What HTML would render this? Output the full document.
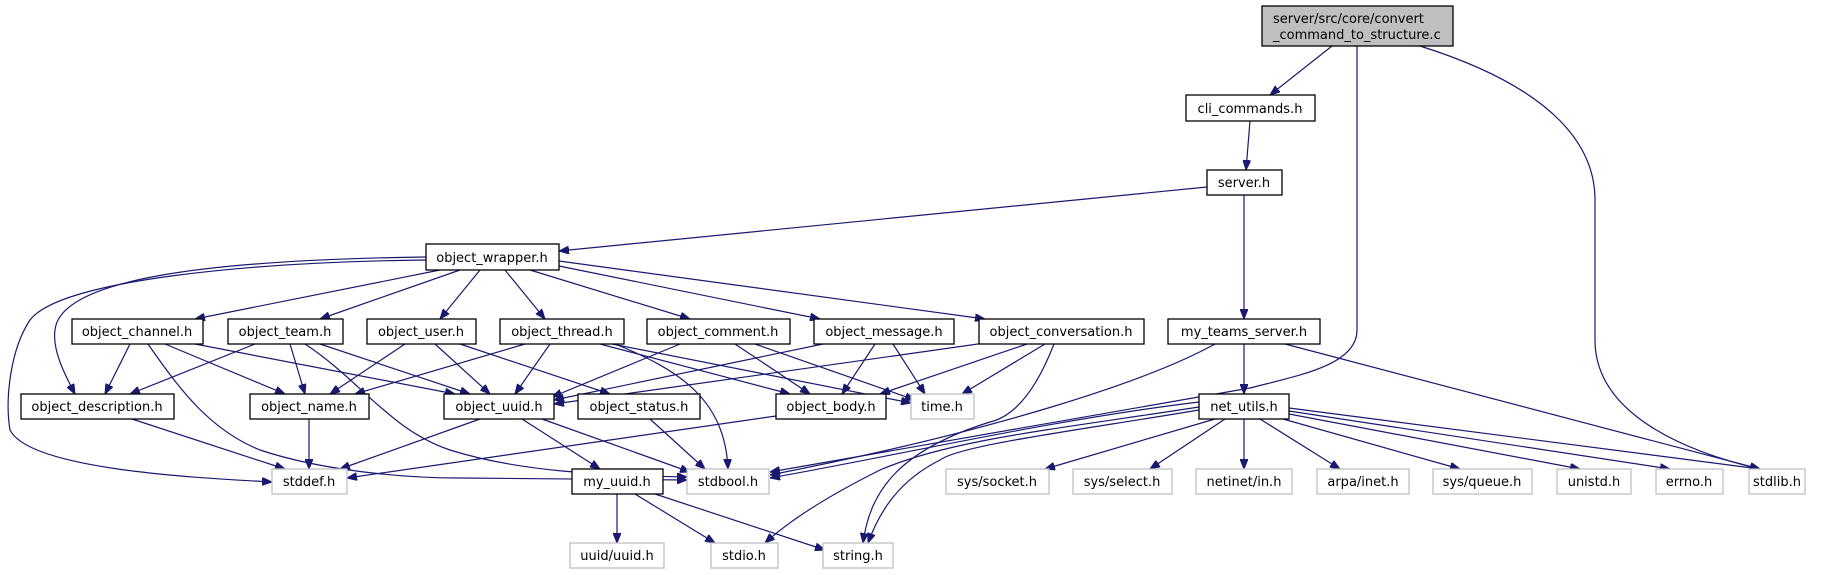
<!DOCTYPE html>
<html><head><meta charset="utf-8"><style>
html,body{margin:0;padding:0;background:#fff;}
svg{display:block;}
text{font-family:"DejaVu Sans","Liberation Sans",sans-serif;font-size:13px;fill:#000;}
.n{fill:#fff;stroke:#000;stroke-width:1.3;}
.s{fill:#fff;stroke:#bfbfbf;stroke-width:1.3;}
.e{fill:none;stroke:#191970;stroke-width:1.2;}
</style></head><body>
<svg width="1824" height="575" viewBox="0 0 1824 575" xmlns="http://www.w3.org/2000/svg">
<defs><marker id="a" viewBox="0 0 10 8" refX="10" refY="4" markerWidth="10" markerHeight="8" markerUnits="userSpaceOnUse" orient="auto"><path d="M0,0 L10,4 L0,8 z" fill="#191970" stroke="#191970"/></marker></defs>
<g marker-end="url(#a)" class="e">
<path class="e" d="M1332,46 L1270,95"/>
<path class="e" d="M1357,46 V330 C1357,365 1300,375 1250,388 L770,472"/>
<path class="e" d="M1420,46 C1560,90 1595,150 1595,200 V340 C1595,420 1700,455 1760,469"/>
<path class="e" d="M1250,121 L1246,170"/>
<path class="e" d="M1207,187 L559,251"/>
<path class="e" d="M1244,195 L1244,319"/>
<path class="e" d="M440,270 L195,319"/>
<path class="e" d="M460,270 L320,319"/>
<path class="e" d="M480,270 L440,319"/>
<path class="e" d="M505,270 L545,319"/>
<path class="e" d="M530,270 L690,319"/>
<path class="e" d="M559,266 L820,319"/>
<path class="e" d="M559,261 L985,319"/>
<path class="e" d="M426,257 C200,260 60,280 55,330 C52,350 65,375 75,394"/>
<path class="e" d="M426,260 C250,262 60,280 30,320 C10,350 5,400 10,430 C30,470 200,478 272,482"/>
<path class="e" d="M130,344 L105,394"/>
<path class="e" d="M165,344 L285,394"/>
<path class="e" d="M195,344 L455,394"/>
<path class="e" d="M148,344 C180,390 210,430 260,450 C320,470 400,478 460,478 L687,480"/>
<path class="e" d="M255,344 L130,394"/>
<path class="e" d="M290,344 L305,394"/>
<path class="e" d="M320,344 L470,394"/>
<path class="e" d="M305,344 C360,380 390,430 450,450 C520,472 600,475 687,477"/>
<path class="e" d="M405,344 L330,394"/>
<path class="e" d="M435,344 L490,394"/>
<path class="e" d="M460,344 L610,394"/>
<path class="e" d="M525,344 L355,394"/>
<path class="e" d="M550,344 L515,394"/>
<path class="e" d="M600,344 L790,394"/>
<path class="e" d="M612,344 L911,403"/>
<path class="e" d="M615,344 C680,370 725,400 728,469"/>
<path class="e" d="M680,344 L552,397"/>
<path class="e" d="M735,344 L810,394"/>
<path class="e" d="M755,344 L915,400"/>
<path class="e" d="M823,344 L554,400"/>
<path class="e" d="M875,344 L842,394"/>
<path class="e" d="M893,344 L925,394"/>
<path class="e" d="M985,343 L554,404"/>
<path class="e" d="M1027,344 L880,394"/>
<path class="e" d="M1045,344 L962,394"/>
<path class="e" d="M1054,344 C1040,380 1020,415 990,422 C900,450 870,490 863,543"/>
<path class="e" d="M1244,344 L1244,394"/>
<path class="e" d="M1215,344 C1150,380 1000,430 770,475"/>
<path class="e" d="M1285,344 L1760,469"/>
<path class="e" d="M480,419 L340,469"/>
<path class="e" d="M522,419 L600,469"/>
<path class="e" d="M542,419 L690,472"/>
<path class="e" d="M650,419 L705,469"/>
<path class="e" d="M776,416 L347,478"/>
<path class="e" d="M309,419 L309,469"/>
<path class="e" d="M132,419 L285,469"/>
<path class="e" d="M617,494 L617,543"/>
<path class="e" d="M635,494 L715,543"/>
<path class="e" d="M655,494 L825,550"/>
<path class="e" d="M1199,402 C1050,420 900,455 770,478"/>
<path class="e" d="M1199,407 C1050,430 950,440 880,470 C830,495 790,520 765,543"/>
<path class="e" d="M1199,410 C1080,430 960,445 940,460 C900,480 880,510 868,543"/>
<path class="e" d="M1215,419 L1045,469"/>
<path class="e" d="M1225,419 L1150,469"/>
<path class="e" d="M1244,419 L1244,469"/>
<path class="e" d="M1260,419 L1340,469"/>
<path class="e" d="M1283,419 L1460,469"/>
<path class="e" d="M1289,414 L1580,469"/>
<path class="e" d="M1289,411 L1670,469"/>
<path class="e" d="M1289,408 L1760,469"/>
</g>
<!-- nodes -->
<rect x="1262" y="6" width="191" height="40" fill="#bfbfbf" stroke="#000" stroke-width="1.3"/>
<text x="1273" y="23">server/src/core/convert</text>
<text x="1273" y="39">_command_to_structure.c</text>
<g text-anchor="middle">
<rect class="n" x="1186" y="95" width="129" height="26"/><text x="1250" y="113">cli_commands.h</text>
<rect class="n" x="1207" y="170" width="75" height="25"/><text x="1244" y="187">server.h</text>
<rect class="n" x="426" y="244" width="133" height="26"/><text x="492" y="262">object_wrapper.h</text>
<rect class="n" x="72" y="319" width="131" height="25"/><text x="137" y="336">object_channel.h</text>
<rect class="n" x="228" y="319" width="115" height="25"/><text x="285" y="336">object_team.h</text>
<rect class="n" x="367" y="319" width="109" height="25"/><text x="421" y="336">object_user.h</text>
<rect class="n" x="500" y="319" width="124" height="25"/><text x="562" y="336">object_thread.h</text>
<rect class="n" x="647" y="319" width="143" height="25"/><text x="718" y="336">object_comment.h</text>
<rect class="n" x="814" y="319" width="140" height="25"/><text x="884" y="336">object_message.h</text>
<rect class="n" x="979" y="319" width="165" height="25"/><text x="1061" y="336">object_conversation.h</text>
<rect class="n" x="1168" y="319" width="152" height="25"/><text x="1244" y="336">my_teams_server.h</text>
<rect class="n" x="21" y="394" width="153" height="25"/><text x="97" y="411">object_description.h</text>
<rect class="n" x="250" y="394" width="119" height="25"/><text x="309" y="411">object_name.h</text>
<rect class="n" x="444" y="394" width="110" height="25"/><text x="499" y="411">object_uuid.h</text>
<rect class="n" x="578" y="394" width="122" height="25"/><text x="639" y="411">object_status.h</text>
<rect class="n" x="776" y="394" width="110" height="25"/><text x="831" y="411">object_body.h</text>
<rect class="s" x="911" y="394" width="63" height="25"/><text x="942" y="411">time.h</text>
<rect class="n" x="1199" y="394" width="90" height="25"/><text x="1244" y="411">net_utils.h</text>
<rect class="s" x="272" y="469" width="75" height="25"/><text x="309" y="486">stddef.h</text>
<rect class="n" x="572" y="469" width="91" height="25"/><text x="617" y="486">my_uuid.h</text>
<rect class="s" x="687" y="469" width="82" height="25"/><text x="728" y="486">stdbool.h</text>
<rect class="s" x="946" y="469" width="103" height="25"/><text x="997" y="486">sys/socket.h</text>
<rect class="s" x="1073" y="469" width="99" height="25"/><text x="1122" y="486">sys/select.h</text>
<rect class="s" x="1196" y="469" width="96" height="25"/><text x="1244" y="486">netinet/in.h</text>
<rect class="s" x="1317" y="469" width="92" height="25"/><text x="1363" y="486">arpa/inet.h</text>
<rect class="s" x="1433" y="469" width="99" height="25"/><text x="1482" y="486">sys/queue.h</text>
<rect class="s" x="1557" y="469" width="74" height="25"/><text x="1594" y="486">unistd.h</text>
<rect class="s" x="1656" y="469" width="67" height="25"/><text x="1689" y="486">errno.h</text>
<rect class="s" x="1749" y="469" width="56" height="25"/><text x="1777" y="486">stdlib.h</text>
<rect class="s" x="570" y="543" width="94" height="25"/><text x="617" y="560">uuid/uuid.h</text>
<rect class="s" x="711" y="543" width="67" height="25"/><text x="744" y="560">stdio.h</text>
<rect class="s" x="823" y="543" width="70" height="25"/><text x="858" y="560">string.h</text>
</g>
</svg>
</body></html>
